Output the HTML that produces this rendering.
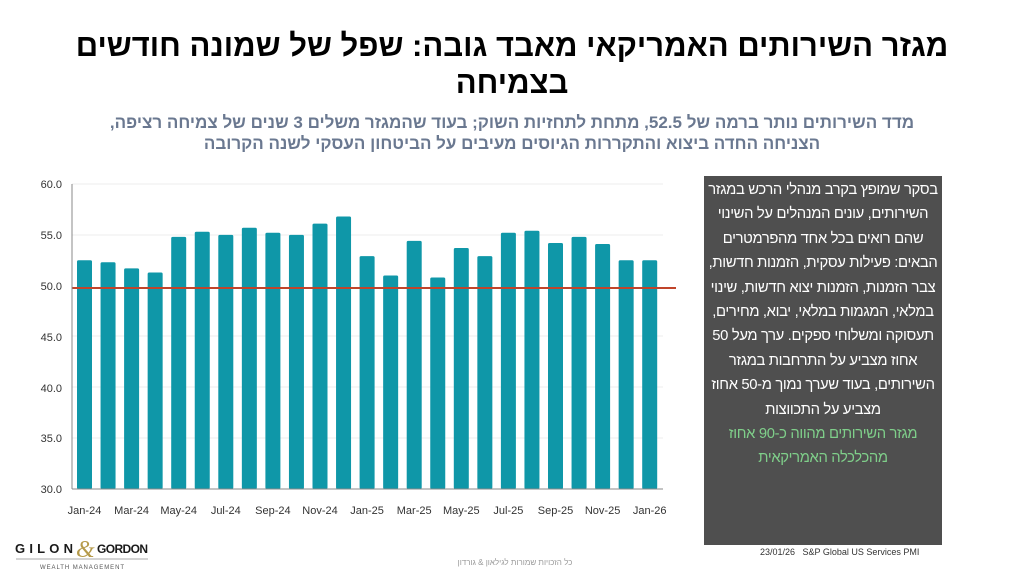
<!DOCTYPE html>
<html><head><meta charset="utf-8"><style>
body{margin:0;width:1024px;height:576px;background:#fff;position:relative;overflow:hidden;font-family:"Liberation Sans","Noto Sans CJK SC",sans-serif}
.t{position:absolute;left:0;width:1024px;text-align:center;direction:rtl}
#title{top:27px;font-size:31px;font-weight:bold;line-height:37px;color:#000}
#sub{top:112px;font-size:17px;font-weight:bold;line-height:21px;color:#6a7890}
#box{position:absolute;left:704px;top:176px;width:238px;height:367px;background:#4f4f4f;direction:rtl;text-align:center;color:#fff;font-size:14.8px;letter-spacing:-0.35px;line-height:24.4px;padding-top:2px;white-space:nowrap;overflow:hidden}
.g{color:#7fcf8a}
</style></head><body>
<div class="t" id="title">מגזר השירותים האמריקאי מאבד גובה: שפל של שמונה חודשים<br>בצמיחה</div>
<div class="t" id="sub">מדד השירותים נותר ברמה של 52.5, מתחת לתחזיות השוק; בעוד שהמגזר משלים 3 שנים של צמיחה רציפה,<br>הצניחה החדה ביצוא והתקררות הגיוסים מעיבים על הביטחון העסקי לשנה הקרובה</div>
<svg style="position:absolute;left:0;top:0" width="700" height="576" font-family="Liberation Sans, sans-serif">
<g stroke="#eee" stroke-width="1">
<line x1="72" x2="663" y1="184" y2="184"/><line x1="72" x2="663" y1="235" y2="235"/><line x1="72" x2="663" y1="336" y2="336"/><line x1="72" x2="663" y1="387" y2="387"/><line x1="72" x2="663" y1="438" y2="438"/>
</g>
<g fill="#0f97a8" id="bars"></g>
<line x1="72" x2="676" y1="288" y2="288" stroke="#c0442a" stroke-width="2"/>
<line x1="72" x2="72" y1="184" y2="489" stroke="#888"/>
<line x1="72" x2="663" y1="489" y2="489" stroke="#888"/>
<g font-size="11" fill="#333" text-anchor="end">
<text x="62" y="188">60.0</text><text x="62" y="239">55.0</text><text x="62" y="290">50.0</text><text x="62" y="341">45.0</text><text x="62" y="392">40.0</text><text x="62" y="442">35.0</text><text x="62" y="493">30.0</text>
</g>
<g font-size="11" fill="#333" text-anchor="middle" id="xl"></g>
<g>
<text x="15" y="553" font-size="13" textLength="58" lengthAdjust="spacing" fill="#1a1a1a" font-weight="bold">GILON</text>
<text x="76" y="557" font-size="24" fill="#b59a4a" font-family="Liberation Serif, serif" font-style="italic">&amp;</text>
<text x="97" y="553" font-size="12" textLength="51" lengthAdjust="spacing" fill="#1a1a1a" font-weight="bold">GORDON</text>
<line x1="16" x2="148" y1="559" y2="559" stroke="#aaa"/>
<text x="40" y="569" font-size="6" textLength="84" lengthAdjust="spacing" fill="#555">WEALTH MANAGEMENT</text>
</g>
</svg>
<div style="position:absolute;left:440px;top:558px;width:150px;text-align:center;font-size:8px;color:#999;direction:rtl">כל הזכויות שמורות לגילאון &amp; גורדון</div>
<div style="position:absolute;left:760px;top:547px;font-size:9px;color:#333">23/01/26&nbsp;&nbsp; S&amp;P Global US Services PMI</div>
<div id="box">בסקר שמופץ בקרב מנהלי הרכש במגזר<br>השירותים, עונים המנהלים על השינוי<br>שהם רואים בכל אחד מהפרמטרים<br>הבאים: פעילות עסקית, הזמנות חדשות,<br>צבר הזמנות, הזמנות יצוא חדשות, שינוי<br>במלאי, המגמות במלאי, יבוא, מחירים,<br>תעסוקה ומשלוחי ספקים. ערך מעל 50<br>אחוז מצביע על התרחבות במגזר<br>השירותים, בעוד שערך נמוך מ-50 אחוז<br>מצביע על התכווצות<br><span class="g">מגזר השירותים מהווה כ-90 אחוז<br>מהכלכלה האמריקאית</span></div>
<script>
var v=[52.5,52.3,51.7,51.3,54.8,55.3,55.0,55.7,55.2,55.0,56.1,56.8,52.9,51.0,54.4,50.8,53.7,52.9,55.2,55.4,54.2,54.8,54.1,52.5,52.5];
var lab=["Jan-24","Mar-24","May-24","Jul-24","Sep-24","Nov-24","Jan-25","Mar-25","May-25","Jul-25","Sep-25","Nov-25","Jan-26"];
var b=document.getElementById('bars'),x=document.getElementById('xl'),ns="http://www.w3.org/2000/svg";
v.forEach(function(d,i){var r=document.createElementNS(ns,'rect');var y=489-(d-30)*305/30;var cx=84.5+i*23.55;
r.setAttribute('x',cx-7.5);r.setAttribute('y',y);r.setAttribute('width',15);r.setAttribute('height',489-y);r.setAttribute('rx',1.5);b.appendChild(r);
if(i%2==0){var t=document.createElementNS(ns,'text');t.setAttribute('x',cx);t.setAttribute('y',514);t.textContent=lab[i/2];x.appendChild(t);}});
</script>
</body></html>
